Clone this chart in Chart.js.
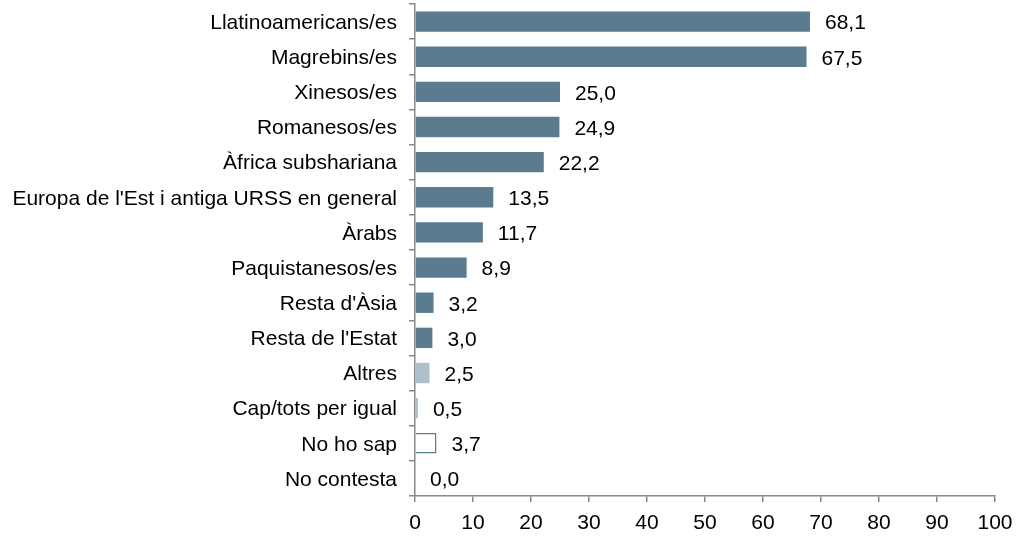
<!DOCTYPE html>
<html>
<head>
<meta charset="utf-8">
<script src="https://cdn.jsdelivr.net/npm/chart.js@4/dist/chart.umd.min.js"></script>
<style>
  html, body { margin: 0; padding: 0; background: #fff; }
  #wrap { width: 1024px; height: 536px; }
</style>
</head>
<body>
<div id="wrap"><canvas id="chart" width="1024" height="536"></canvas></div>
<script>
// Categories and values
const categories = [
  'Llatinoamericans/es', 'Magrebins/es', 'Xinesos/es', 'Romanesos/es',
  'Àfrica subshariana', "Europa de l'Est i antiga URSS en general", 'Àrabs',
  'Paquistanesos/es', "Resta d'Àsia", "Resta de l'Estat", 'Altres',
  'Cap/tots per igual', 'No ho sap', 'No contesta'
];
const values = [68.1, 67.5, 25.0, 24.9, 22.2, 13.5, 11.7, 8.9, 3.2, 3.0, 2.5, 0.5, 3.7, 0.0];
const xTicks = [0, 10, 20, 30, 40, 50, 60, 70, 80, 90, 100];

const dark = '#5B7C8E';
const light = '#AEBFCA';
const fills = values.map((v, i) => i < 10 ? dark : (i < 12 ? light : '#ffffff'));
const borders = values.map((v, i) => i === 12 ? dark : 'transparent');
const fontFamily = '"Liberation Sans", Arial, sans-serif';

// Value labels to the right of the bars
const valueLabels = {
  id: 'valueLabels',
  afterDatasetsDraw(chart) {
    const ctx = chart.ctx;
    const meta = chart.getDatasetMeta(0);
    ctx.save();
    ctx.font = '21px ' + fontFamily;
    ctx.fillStyle = '#000';
    ctx.textBaseline = 'middle';
    ctx.textAlign = 'left';
    meta.data.forEach((bar, i) => {
      ctx.fillText(values[i].toFixed(1).replace('.', ','), bar.x + 15, bar.y + 2);
    });
    ctx.restore();
  }
};

new Chart(document.getElementById('chart'), {
  type: 'bar',
  data: {
    labels: categories,
    datasets: [{
      data: values,
      backgroundColor: fills,
      borderColor: borders,
      borderWidth: values.map((v, i) => i === 12 ? 1.5 : 0),
      barPercentage: 0.58,
      categoryPercentage: 1.0
    }]
  },
  options: {
    indexAxis: 'y',
    responsive: false,
    animation: false,
    layout: { padding: { top: 4, right: 29, left: 0, bottom: 0 } },
    plugins: {
      legend: { display: false },
      tooltip: { enabled: false }
    },
    scales: {
      x: {
        min: 0,
        max: 100,
        afterBuildTicks: s => { s.ticks = xTicks.map(v => ({ value: v })); },
        afterFit: s => { s.height = 40; s.paddingLeft = 0; s.paddingRight = 0; },
        border: { color: '#888', width: 1.5 },
        grid: { drawOnChartArea: false, drawTicks: true, tickLength: 6, color: '#888', lineWidth: 1.5 },
        ticks: { color: '#000', font: { size: 21, family: fontFamily }, padding: 9, maxRotation: 0 }
      },
      y: {
        afterFit: s => { s.width = 415; s.paddingTop = 0; s.paddingBottom = 0; },
        border: { color: '#888', width: 1.5 },
        grid: { drawOnChartArea: false, drawTicks: true, tickLength: 6, color: '#888', lineWidth: 1.5, offset: true },
        ticks: { color: '#000', font: { size: 21, family: fontFamily }, padding: 12, autoSkip: false, labelOffset: 1.5 }
      }
    }
  },
  plugins: [valueLabels]
});
</script>
</body>
</html>
